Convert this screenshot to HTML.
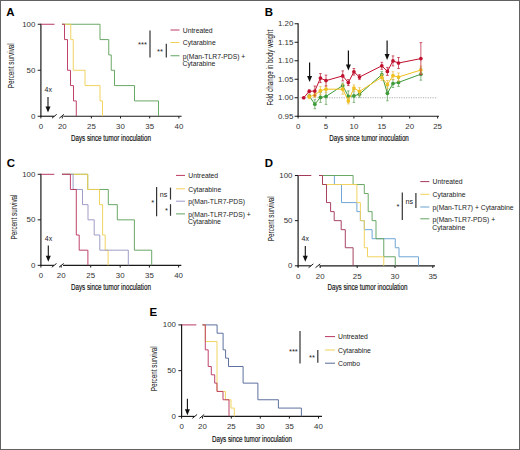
<!DOCTYPE html>
<html><head><meta charset="utf-8"><style>
html,body{margin:0;padding:0;background:#fff;}
body{width:520px;height:450px;overflow:hidden;font-family:"Liberation Sans", sans-serif;}
svg{display:block;}
</style></head><body>
<svg width="520" height="450" viewBox="0 0 520 450" font-family='"Liberation Sans", sans-serif'>
<rect x="0" y="0" width="520" height="450" fill="#fff"/>
<text transform="translate(6.3,15.799999999999999) scale(1.1,1)" font-size="10.4" fill="#000" font-weight="bold">A</text>
<line x1="40.9" y1="23.65" x2="40.9" y2="116.85" stroke="#1a1a1a" stroke-width="1.2"/>
<line x1="37.7" y1="24.25" x2="40.9" y2="24.25" stroke="#1a1a1a" stroke-width="1"/>
<line x1="37.7" y1="70.25" x2="40.9" y2="70.25" stroke="#1a1a1a" stroke-width="1"/>
<line x1="37.7" y1="116.25" x2="40.9" y2="116.25" stroke="#1a1a1a" stroke-width="1"/>
<text x="35.3" y="26.75" font-size="7.9" text-anchor="end" fill="#333" font-weight="normal" >100</text>
<text x="35.3" y="72.75" font-size="7.9" text-anchor="end" fill="#333" font-weight="normal" >50</text>
<text x="35.3" y="118.75" font-size="7.9" text-anchor="end" fill="#333" font-weight="normal" >0</text>
<line x1="40.4" y1="116.25" x2="54.2" y2="116.25" stroke="#1a1a1a" stroke-width="1.15"/>
<line x1="63.3" y1="116.25" x2="181.6" y2="116.25" stroke="#1a1a1a" stroke-width="1.15"/>
<line x1="52" y1="118.15" x2="56.7" y2="114.35" stroke="#1a1a1a" stroke-width="1"/>
<line x1="59.3" y1="118.15" x2="64" y2="114.35" stroke="#1a1a1a" stroke-width="1"/>
<line x1="40.9" y1="116.25" x2="40.9" y2="118.45" stroke="#1a1a1a" stroke-width="1"/>
<text x="40.9" y="128.95" font-size="7.9" text-anchor="middle" fill="#333" font-weight="normal" >0</text>
<line x1="62.3" y1="116.25" x2="62.3" y2="118.45" stroke="#1a1a1a" stroke-width="1"/>
<text x="62.3" y="128.95" font-size="7.9" text-anchor="middle" fill="#333" font-weight="normal" >20</text>
<line x1="91.4" y1="116.25" x2="91.4" y2="118.45" stroke="#1a1a1a" stroke-width="1"/>
<text x="91.4" y="128.95" font-size="7.9" text-anchor="middle" fill="#333" font-weight="normal" >25</text>
<line x1="120.5" y1="116.25" x2="120.5" y2="118.45" stroke="#1a1a1a" stroke-width="1"/>
<text x="120.5" y="128.95" font-size="7.9" text-anchor="middle" fill="#333" font-weight="normal" >30</text>
<line x1="149.7" y1="116.25" x2="149.7" y2="118.45" stroke="#1a1a1a" stroke-width="1"/>
<text x="149.7" y="128.95" font-size="7.9" text-anchor="middle" fill="#333" font-weight="normal" >35</text>
<line x1="178.9" y1="116.25" x2="178.9" y2="118.45" stroke="#1a1a1a" stroke-width="1"/>
<text x="178.9" y="128.95" font-size="7.9" text-anchor="middle" fill="#333" font-weight="normal" >40</text>
<text transform="translate(71,141) scale(0.7540,1)" font-size="8.3" fill="#111" stroke="#111" stroke-width="0.18">Days since tumor inoculation</text>
<text transform="translate(13.6,65.75) rotate(-90) scale(0.7622,1)" font-size="8.3" fill="#1a1a1a" text-anchor="middle" stroke="#1a1a1a" stroke-width="0.05">Percent survival</text>
<line x1="41" y1="24.25" x2="54.5" y2="24.25" stroke="#bb3a62" stroke-width="1"/>
<path d="M62,24.25 H100 V39.58 H108.75 V54.92 H111.25 V70.25 H114.5 V85.58 H134.5 V100.92 H158.5 V116.25" fill="none" stroke="#62a35e" stroke-width="0.95"/>
<path d="M62,24.25 H70.75 V39.58 H73.25 V70.25 H85 V85.58 H100 V100.92 H102.5 V116.25" fill="none" stroke="#f0d158" stroke-width="0.95"/>
<path d="M62,24.25 H64.5 V39.58 H67.5 V70.25 H70.5 V85.58 H73.5 V100.92 H76.3 V116.25" fill="none" stroke="#bb3a62" stroke-width="0.95"/>
<text x="44.6" y="92" font-size="7" text-anchor="start" fill="#222" font-weight="normal" >4x</text>
<line x1="48" y1="97" x2="48" y2="107.5" stroke="#111" stroke-width="1.1"/>
<path d="M45.5,106.5 L50.5,106.5 L48,112.5 Z" fill="#111"/>
<text x="142.5" y="46.7" font-size="7.5" text-anchor="middle" fill="#222" font-weight="normal" >***</text>
<line x1="150" y1="30.5" x2="150" y2="57.5" stroke="#333" stroke-width="1.2"/>
<text x="160" y="54.2" font-size="7.5" text-anchor="middle" fill="#222" font-weight="normal" >**</text>
<line x1="166.3" y1="43.8" x2="166.3" y2="57.5" stroke="#333" stroke-width="1.2"/>
<line x1="170.5" y1="30" x2="179.5" y2="30" stroke="#bb3a62" stroke-width="1"/>
<text x="182.8" y="32.8" font-size="6.8" text-anchor="start" fill="#222" font-weight="normal" >Untreated</text>
<line x1="170.5" y1="42.5" x2="179.5" y2="42.5" stroke="#f0d158" stroke-width="1"/>
<text x="182.8" y="45.3" font-size="6.8" text-anchor="start" fill="#222" font-weight="normal" >Cytarabine</text>
<line x1="170.5" y1="55.75" x2="179.5" y2="55.75" stroke="#62a35e" stroke-width="1"/>
<text x="182.8" y="58.55" font-size="6.8" text-anchor="start" fill="#222" font-weight="normal" >p(Man-TLR7-PDS) +</text>
<text x="182.5" y="66.1" font-size="6.8" text-anchor="start" fill="#222" font-weight="normal" >Cytarabine</text>
<text transform="translate(264.8,15.700000000000001) scale(1.1,1)" font-size="10.4" fill="#000" font-weight="bold">B</text>
<line x1="298.1" y1="23.2" x2="298.1" y2="116.8" stroke="#1a1a1a" stroke-width="1.2"/>
<line x1="294.6" y1="23.75" x2="298.1" y2="23.75" stroke="#1a1a1a" stroke-width="1"/>
<text x="293.3" y="26.35" font-size="7.9" text-anchor="end" fill="#333" font-weight="normal" >1.20</text>
<line x1="294.6" y1="42.25" x2="298.1" y2="42.25" stroke="#1a1a1a" stroke-width="1"/>
<text x="293.3" y="44.85" font-size="7.9" text-anchor="end" fill="#333" font-weight="normal" >1.15</text>
<line x1="294.6" y1="60.75" x2="298.1" y2="60.75" stroke="#1a1a1a" stroke-width="1"/>
<text x="293.3" y="63.35" font-size="7.9" text-anchor="end" fill="#333" font-weight="normal" >1.10</text>
<line x1="294.6" y1="79.25" x2="298.1" y2="79.25" stroke="#1a1a1a" stroke-width="1"/>
<text x="293.3" y="81.85" font-size="7.9" text-anchor="end" fill="#333" font-weight="normal" >1.05</text>
<line x1="294.6" y1="97.75" x2="298.1" y2="97.75" stroke="#1a1a1a" stroke-width="1"/>
<text x="293.3" y="100.35" font-size="7.9" text-anchor="end" fill="#333" font-weight="normal" >1.00</text>
<line x1="294.6" y1="116.25" x2="298.1" y2="116.25" stroke="#1a1a1a" stroke-width="1"/>
<text x="293.3" y="118.85" font-size="7.9" text-anchor="end" fill="#333" font-weight="normal" >0.95</text>
<line x1="297.6" y1="116.25" x2="439" y2="116.25" stroke="#1a1a1a" stroke-width="1"/>
<line x1="298.1" y1="116.25" x2="298.1" y2="118.5" stroke="#1a1a1a" stroke-width="1"/>
<text x="298.1" y="128.9" font-size="7.9" text-anchor="middle" fill="#333" font-weight="normal" >0</text>
<line x1="326" y1="116.25" x2="326" y2="118.5" stroke="#1a1a1a" stroke-width="1"/>
<text x="326" y="128.9" font-size="7.9" text-anchor="middle" fill="#333" font-weight="normal" >5</text>
<line x1="353.9" y1="116.25" x2="353.9" y2="118.5" stroke="#1a1a1a" stroke-width="1"/>
<text x="353.9" y="128.9" font-size="7.9" text-anchor="middle" fill="#333" font-weight="normal" >10</text>
<line x1="381.8" y1="116.25" x2="381.8" y2="118.5" stroke="#1a1a1a" stroke-width="1"/>
<text x="381.8" y="128.9" font-size="7.9" text-anchor="middle" fill="#333" font-weight="normal" >15</text>
<line x1="409.7" y1="116.25" x2="409.7" y2="118.5" stroke="#1a1a1a" stroke-width="1"/>
<text x="409.7" y="128.9" font-size="7.9" text-anchor="middle" fill="#333" font-weight="normal" >20</text>
<line x1="437.6" y1="116.25" x2="437.6" y2="118.5" stroke="#1a1a1a" stroke-width="1"/>
<text x="437.6" y="128.9" font-size="7.9" text-anchor="middle" fill="#333" font-weight="normal" >25</text>
<text transform="translate(329.3,141) scale(0.7502,1)" font-size="8.3" fill="#111" stroke="#111" stroke-width="0.18">Days since tumor inoculation</text>
<text transform="translate(272.5,67.7) rotate(-90) scale(0.7522,1)" font-size="8.3" fill="#1a1a1a" text-anchor="middle" stroke="#1a1a1a" stroke-width="0.05">Fold change in body weight</text>
<line x1="298.1" y1="97.75" x2="437" y2="97.75" stroke="#999" stroke-width="0.8" stroke-dasharray="1.2,1.2"/>
<polyline points="309.26,96 314.84,104.2 320.42,97.4 326.00,96.4 342.74,85.6 348.32,96.4 353.90,95.9 359.48,94.2 381.80,74.6 387.38,93.3 392.96,83.5 398.54,82.4 420.86,74.2" fill="none" stroke="#3f9a3a" stroke-width="1"/>
<path d="M309.26,94.5 V97.5 M307.96,94.5 h2.6 M307.96,97.5 h2.6" stroke="#6aa865" stroke-width="0.8" fill="none"/>
<path d="M314.84,99.7 V108.7 M313.54,99.7 h2.6 M313.54,108.7 h2.6" stroke="#6aa865" stroke-width="0.8" fill="none"/>
<path d="M320.42,92.4 V102.4 M319.12,92.4 h2.6 M319.12,102.4 h2.6" stroke="#6aa865" stroke-width="0.8" fill="none"/>
<path d="M326.00,88.4 V104.4 M324.70,88.4 h2.6 M324.70,104.4 h2.6" stroke="#6aa865" stroke-width="0.8" fill="none"/>
<path d="M342.74,83.1 V88.1 M341.44,83.1 h2.6 M341.44,88.1 h2.6" stroke="#6aa865" stroke-width="0.8" fill="none"/>
<path d="M348.32,90.9 V101.9 M347.02,90.9 h2.6 M347.02,101.9 h2.6" stroke="#6aa865" stroke-width="0.8" fill="none"/>
<path d="M353.90,89.4 V102.4 M352.60,89.4 h2.6 M352.60,102.4 h2.6" stroke="#6aa865" stroke-width="0.8" fill="none"/>
<path d="M359.48,91.2 V97.2 M358.18,91.2 h2.6 M358.18,97.2 h2.6" stroke="#6aa865" stroke-width="0.8" fill="none"/>
<path d="M381.80,71.6 V77.6 M380.50,71.6 h2.6 M380.50,77.6 h2.6" stroke="#6aa865" stroke-width="0.8" fill="none"/>
<path d="M387.38,85.8 V100.8 M386.08,85.8 h2.6 M386.08,100.8 h2.6" stroke="#6aa865" stroke-width="0.8" fill="none"/>
<path d="M392.96,79.5 V87.5 M391.66,79.5 h2.6 M391.66,87.5 h2.6" stroke="#6aa865" stroke-width="0.8" fill="none"/>
<path d="M398.54,78.4 V86.4 M397.24,78.4 h2.6 M397.24,86.4 h2.6" stroke="#6aa865" stroke-width="0.8" fill="none"/>
<path d="M420.86,68.2 V80.2 M419.56,68.2 h2.6 M419.56,80.2 h2.6" stroke="#6aa865" stroke-width="0.8" fill="none"/>
<circle cx="309.26" cy="96" r="1.85" fill="#3f9a3a"/>
<circle cx="314.84" cy="104.2" r="1.85" fill="#3f9a3a"/>
<circle cx="320.42" cy="97.4" r="1.85" fill="#3f9a3a"/>
<circle cx="326.00" cy="96.4" r="1.85" fill="#3f9a3a"/>
<circle cx="342.74" cy="85.6" r="1.85" fill="#3f9a3a"/>
<circle cx="348.32" cy="96.4" r="1.85" fill="#3f9a3a"/>
<circle cx="353.90" cy="95.9" r="1.85" fill="#3f9a3a"/>
<circle cx="359.48" cy="94.2" r="1.85" fill="#3f9a3a"/>
<circle cx="381.80" cy="74.6" r="1.85" fill="#3f9a3a"/>
<circle cx="387.38" cy="93.3" r="1.85" fill="#3f9a3a"/>
<circle cx="392.96" cy="83.5" r="1.85" fill="#3f9a3a"/>
<circle cx="398.54" cy="82.4" r="1.85" fill="#3f9a3a"/>
<circle cx="420.86" cy="74.2" r="1.85" fill="#3f9a3a"/>
<polyline points="309.26,96.7 314.84,95 320.42,90.6 326.00,89.2 342.74,89.2 348.32,100.9 353.90,88.1 359.48,91.4 381.80,77.3 387.38,84.5 392.96,75.7 398.54,77 420.86,70" fill="none" stroke="#f0c020" stroke-width="1"/>
<path d="M309.26,94.7 V98.7 M307.96,94.7 h2.6 M307.96,98.7 h2.6" stroke="#e8c050" stroke-width="0.8" fill="none"/>
<path d="M314.84,92.5 V97.5 M313.54,92.5 h2.6 M313.54,97.5 h2.6" stroke="#e8c050" stroke-width="0.8" fill="none"/>
<path d="M320.42,86.6 V94.6 M319.12,86.6 h2.6 M319.12,94.6 h2.6" stroke="#e8c050" stroke-width="0.8" fill="none"/>
<path d="M326.00,85.7 V92.7 M324.70,85.7 h2.6 M324.70,92.7 h2.6" stroke="#e8c050" stroke-width="0.8" fill="none"/>
<path d="M342.74,84.2 V94.2 M341.44,84.2 h2.6 M341.44,94.2 h2.6" stroke="#e8c050" stroke-width="0.8" fill="none"/>
<path d="M348.32,97.9 V103.9 M347.02,97.9 h2.6 M347.02,103.9 h2.6" stroke="#e8c050" stroke-width="0.8" fill="none"/>
<path d="M353.90,84.89999999999999 V91.3 M352.60,84.89999999999999 h2.6 M352.60,91.3 h2.6" stroke="#e8c050" stroke-width="0.8" fill="none"/>
<path d="M359.48,87.7 V95.10000000000001 M358.18,87.7 h2.6 M358.18,95.10000000000001 h2.6" stroke="#e8c050" stroke-width="0.8" fill="none"/>
<path d="M381.80,74.3 V80.3 M380.50,74.3 h2.6 M380.50,80.3 h2.6" stroke="#e8c050" stroke-width="0.8" fill="none"/>
<path d="M387.38,80.5 V88.5 M386.08,80.5 h2.6 M386.08,88.5 h2.6" stroke="#e8c050" stroke-width="0.8" fill="none"/>
<path d="M392.96,71.7 V79.7 M391.66,71.7 h2.6 M391.66,79.7 h2.6" stroke="#e8c050" stroke-width="0.8" fill="none"/>
<path d="M398.54,73 V81 M397.24,73 h2.6 M397.24,81 h2.6" stroke="#e8c050" stroke-width="0.8" fill="none"/>
<path d="M420.86,66 V74 M419.56,66 h2.6 M419.56,74 h2.6" stroke="#e8c050" stroke-width="0.8" fill="none"/>
<circle cx="309.26" cy="96.7" r="1.85" fill="#f0c020"/>
<circle cx="314.84" cy="95" r="1.85" fill="#f0c020"/>
<circle cx="320.42" cy="90.6" r="1.85" fill="#f0c020"/>
<circle cx="326.00" cy="89.2" r="1.85" fill="#f0c020"/>
<circle cx="342.74" cy="89.2" r="1.85" fill="#f0c020"/>
<circle cx="348.32" cy="100.9" r="1.85" fill="#f0c020"/>
<circle cx="353.90" cy="88.1" r="1.85" fill="#f0c020"/>
<circle cx="359.48" cy="91.4" r="1.85" fill="#f0c020"/>
<circle cx="381.80" cy="77.3" r="1.85" fill="#f0c020"/>
<circle cx="387.38" cy="84.5" r="1.85" fill="#f0c020"/>
<circle cx="392.96" cy="75.7" r="1.85" fill="#f0c020"/>
<circle cx="398.54" cy="77" r="1.85" fill="#f0c020"/>
<circle cx="420.86" cy="70" r="1.85" fill="#f0c020"/>
<polyline points="303.68,97.75 309.26,91.3 314.84,91.0 320.42,78.1 326.00,80.6 342.74,75.9 348.32,82.6 353.90,71.8 359.48,77.1 381.80,65.8 387.38,71.4 392.96,60.9 398.54,63 420.86,58.6" fill="none" stroke="#c0102e" stroke-width="1"/>
<path d="M309.26,89.8 V92.8 M307.96,89.8 h2.6 M307.96,92.8 h2.6" stroke="#c03048" stroke-width="0.8" fill="none"/>
<path d="M314.84,86.0 V96.0 M313.54,86.0 h2.6 M313.54,96.0 h2.6" stroke="#c03048" stroke-width="0.8" fill="none"/>
<path d="M320.42,73.6 V82.6 M319.12,73.6 h2.6 M319.12,82.6 h2.6" stroke="#c03048" stroke-width="0.8" fill="none"/>
<path d="M326.00,75.1 V86.1 M324.70,75.1 h2.6 M324.70,86.1 h2.6" stroke="#c03048" stroke-width="0.8" fill="none"/>
<path d="M342.74,70.9 V80.9 M341.44,70.9 h2.6 M341.44,80.9 h2.6" stroke="#c03048" stroke-width="0.8" fill="none"/>
<path d="M348.32,79.6 V85.6 M347.02,79.6 h2.6 M347.02,85.6 h2.6" stroke="#c03048" stroke-width="0.8" fill="none"/>
<path d="M353.90,68.5 V75.1 M352.60,68.5 h2.6 M352.60,75.1 h2.6" stroke="#c03048" stroke-width="0.8" fill="none"/>
<path d="M359.48,74.6 V79.6 M358.18,74.6 h2.6 M358.18,79.6 h2.6" stroke="#c03048" stroke-width="0.8" fill="none"/>
<path d="M381.80,62.3 V69.3 M380.50,62.3 h2.6 M380.50,69.3 h2.6" stroke="#c03048" stroke-width="0.8" fill="none"/>
<path d="M387.38,67.4 V75.4 M386.08,67.4 h2.6 M386.08,75.4 h2.6" stroke="#c03048" stroke-width="0.8" fill="none"/>
<path d="M392.96,55.9 V65.9 M391.66,55.9 h2.6 M391.66,65.9 h2.6" stroke="#c03048" stroke-width="0.8" fill="none"/>
<path d="M398.54,57.5 V68.5 M397.24,57.5 h2.6 M397.24,68.5 h2.6" stroke="#c03048" stroke-width="0.8" fill="none"/>
<path d="M420.86,42.6 V74.6 M419.56,42.6 h2.6 M419.56,74.6 h2.6" stroke="#c03048" stroke-width="0.8" fill="none"/>
<circle cx="303.68" cy="97.75" r="1.85" fill="#c0102e"/>
<circle cx="309.26" cy="91.3" r="1.85" fill="#c0102e"/>
<circle cx="314.84" cy="91.0" r="1.85" fill="#c0102e"/>
<circle cx="320.42" cy="78.1" r="1.85" fill="#c0102e"/>
<circle cx="326.00" cy="80.6" r="1.85" fill="#c0102e"/>
<circle cx="342.74" cy="75.9" r="1.85" fill="#c0102e"/>
<circle cx="348.32" cy="82.6" r="1.85" fill="#c0102e"/>
<circle cx="353.90" cy="71.8" r="1.85" fill="#c0102e"/>
<circle cx="359.48" cy="77.1" r="1.85" fill="#c0102e"/>
<circle cx="381.80" cy="65.8" r="1.85" fill="#c0102e"/>
<circle cx="387.38" cy="71.4" r="1.85" fill="#c0102e"/>
<circle cx="392.96" cy="60.9" r="1.85" fill="#c0102e"/>
<circle cx="398.54" cy="63" r="1.85" fill="#c0102e"/>
<circle cx="420.86" cy="58.6" r="1.85" fill="#c0102e"/>
<line x1="309.6" y1="62.5" x2="309.6" y2="77.1" stroke="#111" stroke-width="1.2"/>
<path d="M307.1,76.1 L312.1,76.1 L309.6,82.1 Z" fill="#111"/>
<line x1="348.4" y1="50.5" x2="348.4" y2="65.5" stroke="#111" stroke-width="1.2"/>
<path d="M345.9,64.5 L350.9,64.5 L348.4,70.5 Z" fill="#111"/>
<line x1="387.1" y1="40.4" x2="387.1" y2="55.0" stroke="#111" stroke-width="1.2"/>
<path d="M384.6,54.0 L389.6,54.0 L387.1,60.0 Z" fill="#111"/>
<text transform="translate(6.8,167.3) scale(1.1,1)" font-size="10.4" fill="#000" font-weight="bold">C</text>
<line x1="40.9" y1="173.7" x2="40.9" y2="265.95" stroke="#1a1a1a" stroke-width="1.2"/>
<line x1="37.7" y1="174.3" x2="40.9" y2="174.3" stroke="#1a1a1a" stroke-width="1"/>
<line x1="37.7" y1="219.83" x2="40.9" y2="219.83" stroke="#1a1a1a" stroke-width="1"/>
<line x1="37.7" y1="265.35" x2="40.9" y2="265.35" stroke="#1a1a1a" stroke-width="1"/>
<text x="35.3" y="176.8" font-size="7.9" text-anchor="end" fill="#333" font-weight="normal" >100</text>
<text x="35.3" y="222.33" font-size="7.9" text-anchor="end" fill="#333" font-weight="normal" >50</text>
<text x="35.3" y="267.85" font-size="7.9" text-anchor="end" fill="#333" font-weight="normal" >0</text>
<line x1="40.4" y1="265.35" x2="54" y2="265.35" stroke="#1a1a1a" stroke-width="1.15"/>
<line x1="63" y1="265.35" x2="181.3" y2="265.35" stroke="#1a1a1a" stroke-width="1.15"/>
<line x1="51.8" y1="267.25" x2="56.5" y2="263.45" stroke="#1a1a1a" stroke-width="1"/>
<line x1="59" y1="267.25" x2="63.7" y2="263.45" stroke="#1a1a1a" stroke-width="1"/>
<line x1="40.9" y1="265.35" x2="40.9" y2="267.55" stroke="#1a1a1a" stroke-width="1"/>
<text x="40.9" y="278.05" font-size="7.9" text-anchor="middle" fill="#333" font-weight="normal" >0</text>
<line x1="61.2" y1="265.35" x2="61.2" y2="267.55" stroke="#1a1a1a" stroke-width="1"/>
<text x="61.2" y="278.05" font-size="7.9" text-anchor="middle" fill="#333" font-weight="normal" >20</text>
<line x1="90.7" y1="265.35" x2="90.7" y2="267.55" stroke="#1a1a1a" stroke-width="1"/>
<text x="90.7" y="278.05" font-size="7.9" text-anchor="middle" fill="#333" font-weight="normal" >25</text>
<line x1="120.2" y1="265.35" x2="120.2" y2="267.55" stroke="#1a1a1a" stroke-width="1"/>
<text x="120.2" y="278.05" font-size="7.9" text-anchor="middle" fill="#333" font-weight="normal" >30</text>
<line x1="149.4" y1="265.35" x2="149.4" y2="267.55" stroke="#1a1a1a" stroke-width="1"/>
<text x="149.4" y="278.05" font-size="7.9" text-anchor="middle" fill="#333" font-weight="normal" >35</text>
<line x1="178.6" y1="265.35" x2="178.6" y2="267.55" stroke="#1a1a1a" stroke-width="1"/>
<text x="178.6" y="278.05" font-size="7.9" text-anchor="middle" fill="#333" font-weight="normal" >40</text>
<text transform="translate(71,290) scale(0.7540,1)" font-size="8.3" fill="#111" stroke="#111" stroke-width="0.18">Days since tumor inoculation</text>
<text transform="translate(17.2,217) rotate(-90) scale(0.7622,1)" font-size="8.3" fill="#1a1a1a" text-anchor="middle" stroke="#1a1a1a" stroke-width="0.05">Percent survival</text>
<line x1="41" y1="174.3" x2="54.3" y2="174.3" stroke="#bb3a62" stroke-width="1"/>
<path d="M62,174.3 H87.7 V189.48 H108.3 V204.65 H117.3 V219.83 H134.4 V250.18 H151.7 V265.35" fill="none" stroke="#62a35e" stroke-width="0.95"/>
<path d="M62,174.3 H87.7 V189.48 H99.5 V204.65 H102.6 V235.00 H105.2 V250.18 H108.1 V265.35" fill="none" stroke="#f0d158" stroke-width="0.95"/>
<path d="M62,174.3 H73.1 V189.48 H82.5 V204.65 H88.0 V219.83 H94.2 V235.00 H99.8 V250.18 H128.3 V265.35" fill="none" stroke="#9a98c4" stroke-width="0.95"/>
<path d="M62,174.3 H70.4 V189.48 H76.3 V235.00 H79.2 V250.18 H87.9 V265.35" fill="none" stroke="#bb3a62" stroke-width="0.95"/>
<text x="44.8" y="241" font-size="7" text-anchor="start" fill="#222" font-weight="normal" >4x</text>
<line x1="48.3" y1="245.4" x2="48.3" y2="256.8" stroke="#111" stroke-width="1.1"/>
<path d="M45.8,255.8 L50.8,255.8 L48.3,261.8 Z" fill="#111"/>
<text x="152.7" y="204.7" font-size="7.5" text-anchor="middle" fill="#222" font-weight="normal" >*</text>
<line x1="156.6" y1="186.9" x2="156.6" y2="216.2" stroke="#333" stroke-width="1.2"/>
<text x="163.6" y="196.5" font-size="7.2" text-anchor="middle" fill="#222" font-weight="normal" >ns</text>
<line x1="170.5" y1="187.6" x2="170.5" y2="199.6" stroke="#333" stroke-width="1.2"/>
<text x="166.5" y="212.7" font-size="7.5" text-anchor="middle" fill="#222" font-weight="normal" >*</text>
<line x1="170.5" y1="204.2" x2="170.5" y2="215.8" stroke="#333" stroke-width="1.2"/>
<line x1="176" y1="175.4" x2="185" y2="175.4" stroke="#bb3a62" stroke-width="1"/>
<text x="188.3" y="178.2" font-size="6.8" text-anchor="start" fill="#222" font-weight="normal" >Untreated</text>
<line x1="176" y1="188.8" x2="185" y2="188.8" stroke="#f0d158" stroke-width="1"/>
<text x="188.3" y="191.6" font-size="6.8" text-anchor="start" fill="#222" font-weight="normal" >Cytarabine</text>
<line x1="176" y1="201.2" x2="185" y2="201.2" stroke="#9a98c4" stroke-width="1"/>
<text x="188.3" y="204" font-size="6.8" text-anchor="start" fill="#222" font-weight="normal" >p(Man-TLR7-PDS)</text>
<line x1="176" y1="213.9" x2="185" y2="213.9" stroke="#62a35e" stroke-width="1"/>
<text x="188.3" y="216.7" font-size="6.8" text-anchor="start" fill="#222" font-weight="normal" >p(Man-TLR7-PDS) +</text>
<text x="188" y="224.4" font-size="6.8" text-anchor="start" fill="#222" font-weight="normal" >Cytarabine</text>
<text transform="translate(264.8,167.3) scale(1.1,1)" font-size="10.4" fill="#000" font-weight="bold">D</text>
<line x1="298.1" y1="174.9" x2="298.1" y2="266.4" stroke="#1a1a1a" stroke-width="1.2"/>
<line x1="294.9" y1="175.5" x2="298.1" y2="175.5" stroke="#1a1a1a" stroke-width="1"/>
<line x1="294.9" y1="220.65" x2="298.1" y2="220.65" stroke="#1a1a1a" stroke-width="1"/>
<line x1="294.9" y1="265.8" x2="298.1" y2="265.8" stroke="#1a1a1a" stroke-width="1"/>
<text x="292.5" y="178" font-size="7.9" text-anchor="end" fill="#333" font-weight="normal" >100</text>
<text x="292.5" y="223.15" font-size="7.9" text-anchor="end" fill="#333" font-weight="normal" >50</text>
<text x="292.5" y="268.3" font-size="7.9" text-anchor="end" fill="#333" font-weight="normal" >0</text>
<line x1="297.6" y1="265.8" x2="310.8" y2="265.8" stroke="#1a1a1a" stroke-width="1.15"/>
<line x1="319.5" y1="265.8" x2="435" y2="265.8" stroke="#1a1a1a" stroke-width="1.15"/>
<line x1="308.6" y1="267.7" x2="313.3" y2="263.9" stroke="#1a1a1a" stroke-width="1"/>
<line x1="315.5" y1="267.7" x2="320.2" y2="263.9" stroke="#1a1a1a" stroke-width="1"/>
<line x1="298.1" y1="265.8" x2="298.1" y2="268" stroke="#1a1a1a" stroke-width="1"/>
<text x="298.1" y="278.5" font-size="7.9" text-anchor="middle" fill="#333" font-weight="normal" >0</text>
<line x1="320.2" y1="265.8" x2="320.2" y2="268" stroke="#1a1a1a" stroke-width="1"/>
<text x="320.2" y="278.5" font-size="7.9" text-anchor="middle" fill="#333" font-weight="normal" >20</text>
<line x1="357.2" y1="265.8" x2="357.2" y2="268" stroke="#1a1a1a" stroke-width="1"/>
<text x="357.2" y="278.5" font-size="7.9" text-anchor="middle" fill="#333" font-weight="normal" >25</text>
<line x1="395" y1="265.8" x2="395" y2="268" stroke="#1a1a1a" stroke-width="1"/>
<text x="395" y="278.5" font-size="7.9" text-anchor="middle" fill="#333" font-weight="normal" >30</text>
<line x1="432.8" y1="265.8" x2="432.8" y2="268" stroke="#1a1a1a" stroke-width="1"/>
<text x="432.8" y="278.5" font-size="7.9" text-anchor="middle" fill="#333" font-weight="normal" >35</text>
<text transform="translate(327.5,289.6) scale(0.7540,1)" font-size="8.3" fill="#111" stroke="#111" stroke-width="0.18">Days since tumor inoculation</text>
<text transform="translate(274.20000000000005,218.7) rotate(-90) scale(0.7622,1)" font-size="8.3" fill="#1a1a1a" text-anchor="middle" stroke="#1a1a1a" stroke-width="0.05">Percent survival</text>
<line x1="298.2" y1="175.5" x2="311.3" y2="175.5" stroke="#a23a5a" stroke-width="1"/>
<path d="M319,175.5 H334.4 V184.53 H341.5 V202.59 H356.9 V211.62 H360.4 V220.65 H364.3 V229.68 H372.1 V238.71 H395.25 V247.74 H399.0 V256.77 H418.5 V265.80" fill="none" stroke="#68a2d4" stroke-width="0.95"/>
<path d="M319,175.5 H353.1 V184.53 H364.3 V193.56 H368.2 V211.62 H372.1 V220.65 H376.0 V238.71 H383.75 V256.77 H395.25 V265.80" fill="none" stroke="#62a35e" stroke-width="0.95"/>
<path d="M319,175.5 H322.5 V184.53 H356.9 V202.59 H360.4 V220.65 H364.3 V247.74 H367.5 V256.77 H383.75 V265.80" fill="none" stroke="#f0d158" stroke-width="0.95"/>
<path d="M319,175.5 H322.5 V184.53 H326.5 V202.59 H330.6 V211.62 H334.2 V220.65 H341.2 V229.68 H345.3 V247.74 H353.1 V265.80" fill="none" stroke="#a23a5a" stroke-width="0.95"/>
<text x="301.6" y="241" font-size="7" text-anchor="start" fill="#222" font-weight="normal" >4x</text>
<line x1="305.3" y1="246" x2="305.3" y2="256.8" stroke="#111" stroke-width="1.1"/>
<path d="M302.8,255.8 L307.8,255.8 L305.3,261.8 Z" fill="#111"/>
<text x="397.9" y="208.5" font-size="7.5" text-anchor="middle" fill="#222" font-weight="normal" >*</text>
<line x1="402.3" y1="192.5" x2="402.3" y2="220" stroke="#333" stroke-width="1.2"/>
<text x="409.4" y="204" font-size="7.2" text-anchor="middle" fill="#222" font-weight="normal" >ns</text>
<line x1="415.9" y1="193.1" x2="415.9" y2="208.1" stroke="#333" stroke-width="1.2"/>
<line x1="420.3" y1="181.6" x2="429.3" y2="181.6" stroke="#a23a5a" stroke-width="1"/>
<text x="432.6" y="184.4" font-size="6.8" text-anchor="start" fill="#222" font-weight="normal" >Untreated</text>
<line x1="420.3" y1="194.3" x2="429.3" y2="194.3" stroke="#f0d158" stroke-width="1"/>
<text x="432.6" y="197.1" font-size="6.8" text-anchor="start" fill="#222" font-weight="normal" >Cytarabine</text>
<line x1="420.3" y1="207" x2="429.3" y2="207" stroke="#68a2d4" stroke-width="1"/>
<text x="432.6" y="209.8" font-size="6.8" text-anchor="start" fill="#222" font-weight="normal" >p(Man-TLR7) + Cytarabine</text>
<line x1="420.3" y1="218.8" x2="429.3" y2="218.8" stroke="#62a35e" stroke-width="1"/>
<text x="432.6" y="221.6" font-size="6.8" text-anchor="start" fill="#222" font-weight="normal" >p(Man-TLR7-PDS) +</text>
<text x="432.3" y="229.8" font-size="6.8" text-anchor="start" fill="#222" font-weight="normal" >Cytarabine</text>
<text transform="translate(149.6,316.2) scale(1.1,1)" font-size="10.4" fill="#000" font-weight="bold">E</text>
<line x1="181.6" y1="324.3" x2="181.6" y2="417" stroke="#1a1a1a" stroke-width="1.2"/>
<line x1="178.4" y1="324.9" x2="181.6" y2="324.9" stroke="#1a1a1a" stroke-width="1"/>
<line x1="178.4" y1="370.65" x2="181.6" y2="370.65" stroke="#1a1a1a" stroke-width="1"/>
<line x1="178.4" y1="416.4" x2="181.6" y2="416.4" stroke="#1a1a1a" stroke-width="1"/>
<text x="176" y="327.4" font-size="7.9" text-anchor="end" fill="#333" font-weight="normal" >100</text>
<text x="176" y="373.15" font-size="7.9" text-anchor="end" fill="#333" font-weight="normal" >50</text>
<text x="176" y="418.9" font-size="7.9" text-anchor="end" fill="#333" font-weight="normal" >0</text>
<line x1="181.1" y1="416.4" x2="194.6" y2="416.4" stroke="#1a1a1a" stroke-width="1.15"/>
<line x1="203.5" y1="416.4" x2="322" y2="416.4" stroke="#1a1a1a" stroke-width="1.15"/>
<line x1="192.4" y1="418.3" x2="197.1" y2="414.5" stroke="#1a1a1a" stroke-width="1"/>
<line x1="199.5" y1="418.3" x2="204.2" y2="414.5" stroke="#1a1a1a" stroke-width="1"/>
<line x1="181.6" y1="416.4" x2="181.6" y2="418.6" stroke="#1a1a1a" stroke-width="1"/>
<text x="181.6" y="429.1" font-size="7.9" text-anchor="middle" fill="#333" font-weight="normal" >0</text>
<line x1="202.5" y1="416.4" x2="202.5" y2="418.6" stroke="#1a1a1a" stroke-width="1"/>
<text x="202.5" y="429.1" font-size="7.9" text-anchor="middle" fill="#333" font-weight="normal" >20</text>
<line x1="231.3" y1="416.4" x2="231.3" y2="418.6" stroke="#1a1a1a" stroke-width="1"/>
<text x="231.3" y="429.1" font-size="7.9" text-anchor="middle" fill="#333" font-weight="normal" >25</text>
<line x1="260.3" y1="416.4" x2="260.3" y2="418.6" stroke="#1a1a1a" stroke-width="1"/>
<text x="260.3" y="429.1" font-size="7.9" text-anchor="middle" fill="#333" font-weight="normal" >30</text>
<line x1="289.4" y1="416.4" x2="289.4" y2="418.6" stroke="#1a1a1a" stroke-width="1"/>
<text x="289.4" y="429.1" font-size="7.9" text-anchor="middle" fill="#333" font-weight="normal" >35</text>
<line x1="318.5" y1="416.4" x2="318.5" y2="418.6" stroke="#1a1a1a" stroke-width="1"/>
<text x="318.5" y="429.1" font-size="7.9" text-anchor="middle" fill="#333" font-weight="normal" >40</text>
<text transform="translate(212,441.5) scale(0.7540,1)" font-size="8.3" fill="#111" stroke="#111" stroke-width="0.18">Days since tumor inoculation</text>
<text transform="translate(156.7,368.8) rotate(-90) scale(0.7622,1)" font-size="8.3" fill="#1a1a1a" text-anchor="middle" stroke="#1a1a1a" stroke-width="0.05">Percent survival</text>
<line x1="181.7" y1="324.9" x2="196.3" y2="324.9" stroke="#bb3a62" stroke-width="1"/>
<path d="M202.5,324.9 H217.1 V333.22 H223.1 V349.85 H225.6 V358.17 H228.5 V366.49 H243.1 V383.13 H257.9 V399.76 H278.4 V408.08 H301.4 V416.40" fill="none" stroke="#55699a" stroke-width="0.95"/>
<path d="M202.5,324.9 H205.3 V341.54 H217.0 V391.45 H225.4 V399.76 H231.0 V408.08 H234.3 V416.40" fill="none" stroke="#f0d158" stroke-width="0.95"/>
<path d="M202.5,324.9 H205.3 V349.85 H208.2 V366.49 H211.3 V374.81 H214.7 V383.13 H217.0 V391.45 H223.0 V399.76 H229.0 V416.40" fill="none" stroke="#bb3a62" stroke-width="0.95"/>
<line x1="187.4" y1="398.7" x2="187.4" y2="410.2" stroke="#111" stroke-width="1.1"/>
<path d="M184.9,409.2 L189.9,409.2 L187.4,415.2 Z" fill="#111"/>
<text x="293.4" y="353.5" font-size="7.5" text-anchor="middle" fill="#222" font-weight="normal" >***</text>
<line x1="300" y1="331" x2="300" y2="363.4" stroke="#333" stroke-width="1.2"/>
<text x="312" y="359.8" font-size="7.5" text-anchor="middle" fill="#222" font-weight="normal" >**</text>
<line x1="317.8" y1="350" x2="317.8" y2="362.7" stroke="#333" stroke-width="1.2"/>
<line x1="325" y1="336.6" x2="335" y2="336.6" stroke="#bb3a62" stroke-width="1"/>
<text x="338" y="339.4" font-size="6.8" text-anchor="start" fill="#222" font-weight="normal" >Untreated</text>
<line x1="325" y1="350" x2="335" y2="350" stroke="#f0d158" stroke-width="1"/>
<text x="338" y="352.8" font-size="6.8" text-anchor="start" fill="#222" font-weight="normal" >Cytarabine</text>
<line x1="325" y1="363.2" x2="335" y2="363.2" stroke="#55699a" stroke-width="1"/>
<text x="338" y="366" font-size="6.8" text-anchor="start" fill="#222" font-weight="normal" >Combo</text>
<rect x="0.5" y="0.5" width="519" height="449" fill="none" stroke="#626262" stroke-width="1"/>
</svg>
</body></html>
